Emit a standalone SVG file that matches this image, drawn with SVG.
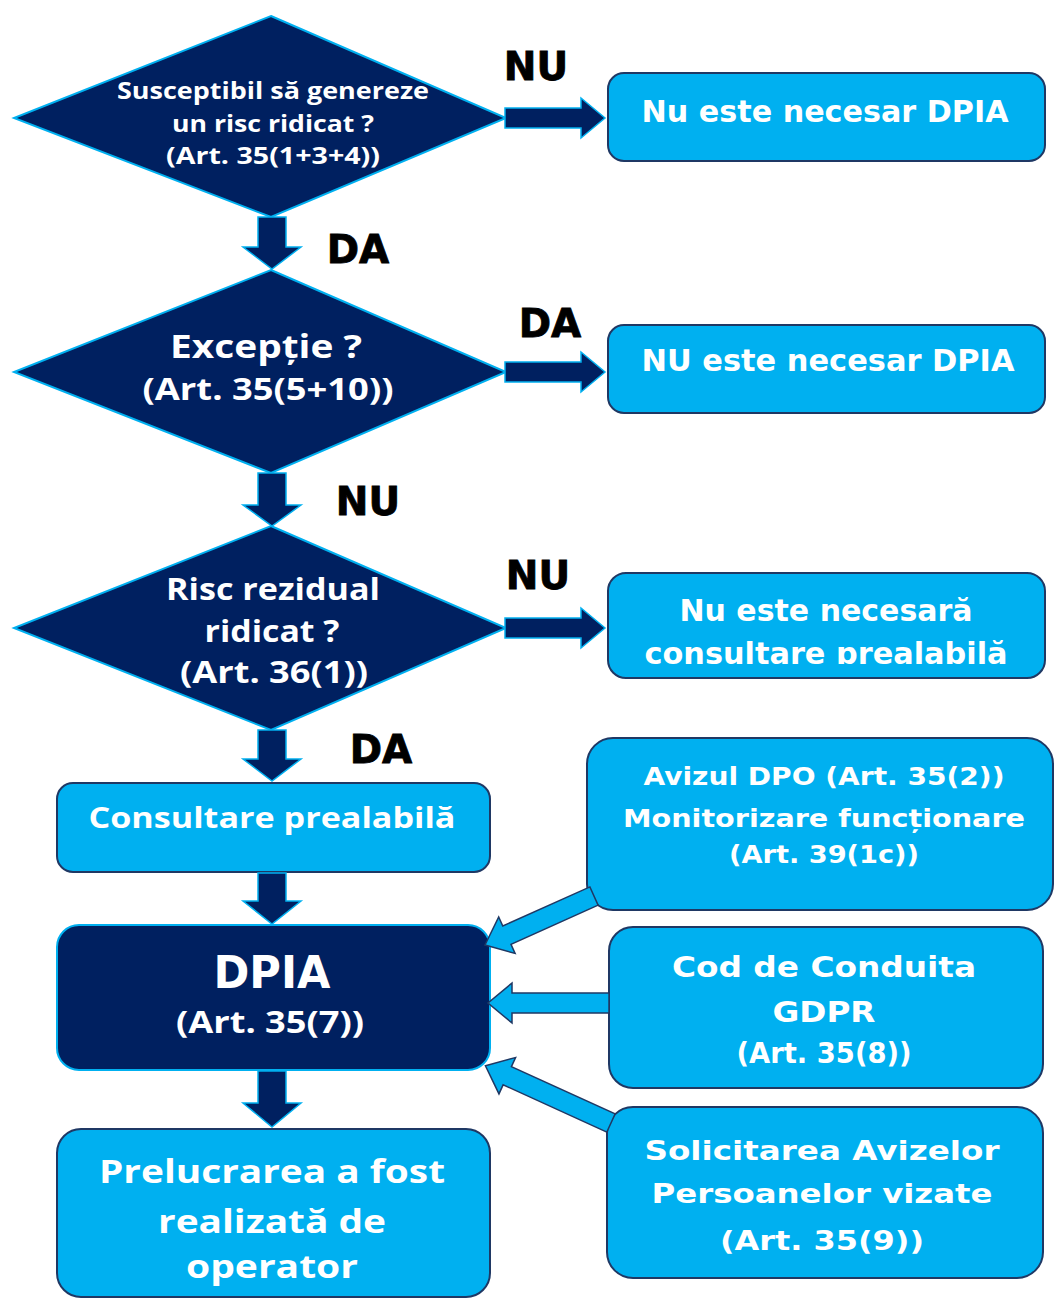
<svg xmlns="http://www.w3.org/2000/svg" width="1055" height="1298" viewBox="0 0 1055 1298">
<style>
.dia{fill:#002060;stroke:#00B0F0;stroke-width:2}
.box{fill:#00B0F0;stroke:#1F3864;stroke-width:2}
.dbox{fill:#002060;stroke:#00B0F0;stroke-width:2}
.dark{fill:#002060;stroke:#00B0F0;stroke-width:1.5}
.lite{fill:#00B0F0;stroke:#1F3864;stroke-width:1.5}
.t{fill:#FFFFFF;font-weight:700;text-anchor:middle}
.os{font-family:"Open Sans","Liberation Sans",sans-serif}
.dv{font-family:"DejaVu Sans","Liberation Sans",sans-serif}
.lbl{fill:#000000;stroke:#000000;stroke-width:0.8;font-family:"DejaVu Sans","Liberation Sans",sans-serif;font-weight:700;font-size:39px;text-anchor:middle}
</style>
<defs>
<clipPath id="clip3"><rect x="600" y="560" width="455" height="104"/></clipPath>
</defs>
<rect width="1055" height="1298" fill="#FFFFFF"/>

<g id="d1">
<polygon class="dia" points="271,16 506,118 271,217 14,118"/>
<text class="t os" font-size="23" x="273" y="99" textLength="312" lengthAdjust="spacingAndGlyphs">Susceptibil să genereze</text>
<text class="t os" font-size="23" x="273" y="132" textLength="202" lengthAdjust="spacingAndGlyphs">un risc ridicat ?</text>
<text class="t os" font-size="23" x="273" y="164" textLength="214" lengthAdjust="spacingAndGlyphs">(Art. 35(1+3+4))</text>
</g>

<g id="d2">
<polygon class="dia" points="271,270 506,372 271,473 14,372"/>
<text class="t os" font-size="33" x="266" y="358" textLength="192" lengthAdjust="spacingAndGlyphs">Excepție ?</text>
<text class="t os" font-size="31" x="268" y="400" textLength="251" lengthAdjust="spacingAndGlyphs">(Art. 35(5+10))</text>
</g>

<g id="d3">
<polygon class="dia" points="271,526 506,628 271,730 14,628"/>
<text class="t os" font-size="30" x="273" y="600" textLength="214" lengthAdjust="spacingAndGlyphs">Risc rezidual</text>
<text class="t os" font-size="30" x="272" y="642" textLength="135" lengthAdjust="spacingAndGlyphs">ridicat ?</text>
<text class="t os" font-size="30" x="274" y="683" textLength="188" lengthAdjust="spacingAndGlyphs">(Art. 36(1))</text>
</g>

<g id="b1">
<rect class="box" x="608" y="73" width="437" height="88" rx="16"/>
<text class="t dv" font-size="30" x="825" y="122" textLength="367" lengthAdjust="spacingAndGlyphs">Nu este necesar DPIA</text>
</g>

<g id="b2">
<rect class="box" x="608" y="325" width="437" height="88" rx="16"/>
<text class="t dv" font-size="30" x="828" y="371" textLength="373" lengthAdjust="spacingAndGlyphs">NU este necesar DPIA</text>
</g>

<g id="b3">
<rect class="box" x="608" y="573" width="437" height="105" rx="18"/>
<text class="t dv" font-size="30" x="826" y="621" textLength="293" lengthAdjust="spacingAndGlyphs">Nu este necesară</text>
<text class="t dv" font-size="30" x="826" y="664" textLength="363" lengthAdjust="spacingAndGlyphs" clip-path="url(#clip3)">consultare prealabilă</text>
</g>

<g id="consult">
<rect class="box" x="57" y="783" width="433" height="89" rx="16"/>
<text class="t os" font-size="29" x="272" y="828" textLength="367" lengthAdjust="spacingAndGlyphs">Consultare prealabilă</text>
</g>

<g id="dpia">
<rect class="dbox" x="57" y="925" width="433" height="145" rx="22"/>
<text class="t dv" font-size="44" x="272" y="988" textLength="117" lengthAdjust="spacingAndGlyphs">DPIA</text>
<text class="t os" font-size="31" x="270" y="1033" textLength="188" lengthAdjust="spacingAndGlyphs">(Art. 35(7))</text>
</g>

<g id="prelucrare">
<rect class="box" x="57" y="1129" width="433" height="168" rx="24"/>
<text class="t os" font-size="33" x="272" y="1183" textLength="346" lengthAdjust="spacingAndGlyphs">Prelucrarea a fost</text>
<text class="t os" font-size="33" x="272" y="1233" textLength="228" lengthAdjust="spacingAndGlyphs">realizată de</text>
<text class="t os" font-size="33" x="272" y="1278" textLength="172" lengthAdjust="spacingAndGlyphs">operator</text>
</g>

<g id="avizul">
<rect class="box" x="587" y="738" width="466" height="172" rx="26"/>
<text class="t dv" font-size="25" x="824" y="785" textLength="361" lengthAdjust="spacingAndGlyphs">Avizul DPO (Art. 35(2))</text>
<text class="t dv" font-size="25" x="824" y="827" textLength="402" lengthAdjust="spacingAndGlyphs">Monitorizare funcționare</text>
<text class="t dv" font-size="25" x="824" y="863" textLength="190" lengthAdjust="spacingAndGlyphs">(Art. 39(1c))</text>
</g>

<g id="cod">
<rect class="box" x="609" y="927" width="434" height="161" rx="24"/>
<text class="t dv" font-size="28" x="824" y="977" textLength="304" lengthAdjust="spacingAndGlyphs">Cod de Conduita</text>
<text class="t dv" font-size="28" x="824" y="1022" textLength="103" lengthAdjust="spacingAndGlyphs">GDPR</text>
<text class="t dv" font-size="28" x="824" y="1063" textLength="175" lengthAdjust="spacingAndGlyphs">(Art. 35(8))</text>
</g>

<g id="solicitarea">
<rect class="box" x="607" y="1107" width="436" height="171" rx="26"/>
<text class="t dv" font-size="27" x="822" y="1160" textLength="355" lengthAdjust="spacingAndGlyphs">Solicitarea Avizelor</text>
<text class="t dv" font-size="27" x="822" y="1203" textLength="341" lengthAdjust="spacingAndGlyphs">Persoanelor vizate</text>
<text class="t dv" font-size="27" x="822" y="1250" textLength="204" lengthAdjust="spacingAndGlyphs">(Art. 35(9))</text>
</g>

<g id="connectors">
<path class="dark" d="M258,217 H286 V247 H301 L272,269 L243,247 H258 Z"/>
<path class="dark" d="M258,473 H286 V505 H301 L272,526 L243,505 H258 Z"/>
<path class="dark" d="M258,730 H286 V759 H301 L272,781 L243,759 H258 Z"/>
<path class="dark" d="M258,873 H286 V901 H301 L272,924 L243,901 H258 Z"/>
<path class="dark" d="M258,1071 H286 V1103 H301 L272,1127 L243,1103 H258 Z"/>
<path class="dark" d="M505,108 H581 V98 L605,118 L581,138 V128 H505 Z"/>
<path class="dark" d="M505,362 H581 V352 L605,372 L581,392 V382 H505 Z"/>
<path class="dark" d="M505,618 H581 V608 L605,628 L581,648 V638 H505 Z"/>
<path class="lite" transform="translate(594,896) rotate(155.8)" d="M0,-10 H95.5 V-20 L119.5,0 L95.5,20 V10 H0 Z"/>
<path class="lite" transform="translate(609,1003) rotate(180)" d="M0,-10 H97 V-20 L121,0 L97,20 V10 H0 Z"/>
<path class="lite" transform="translate(611,1123) rotate(204.5)" d="M0,-10 H114 V-20 L138,0 L114,20 V10 H0 Z"/>
</g>

<g id="labels">
<text class="lbl" x="536" y="80">NU</text>
<text class="lbl" x="358" y="263">DA</text>
<text class="lbl" x="550" y="337">DA</text>
<text class="lbl" x="368" y="515">NU</text>
<text class="lbl" x="538" y="589">NU</text>
<text class="lbl" x="381" y="763">DA</text>
</g>
</svg>
